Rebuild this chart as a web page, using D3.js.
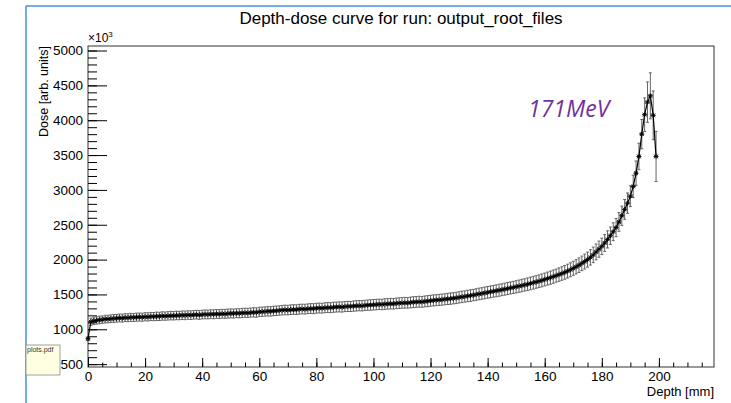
<!DOCTYPE html>
<html>
<head>
<meta charset="utf-8">
<script src="https://cdn.jsdelivr.net/npm/d3@7"></script>
<style>
  body { margin: 0; background: #fff; }
  svg { display: block; font-family: "Liberation Sans", Arial, sans-serif; }
</style>
</head>
<body>
<div id="chart"></div>
<script>
// depth in mm, one bin per mm
const depth = d3.range(0, 200);
const dose = [
  865, 1108, 1121, 1127, 1134, 1139, 1145, 1147, 1152, 1155,
  1158, 1163, 1160, 1168, 1166, 1171, 1169, 1174, 1176, 1173,
  1180, 1178, 1184, 1182, 1187, 1185, 1191, 1189, 1193, 1196,
  1194, 1199, 1197, 1202, 1200, 1205, 1203, 1207, 1210, 1206,
  1211, 1214, 1212, 1217, 1215, 1220, 1218, 1223, 1221, 1226,
  1228, 1226, 1231, 1229, 1234, 1237, 1235, 1240, 1243, 1241,
  1250, 1252, 1255, 1258, 1257, 1263, 1266, 1270, 1274, 1278,
  1276, 1281, 1284, 1282, 1288, 1291, 1289, 1295, 1298, 1296,
  1302, 1305, 1303, 1309, 1312, 1310, 1316, 1319, 1322, 1320,
  1326, 1329, 1327, 1333, 1336, 1339, 1337, 1343, 1346, 1349,
  1352, 1355, 1358, 1356, 1362, 1365, 1368, 1366, 1372, 1375,
  1378, 1381, 1379, 1385, 1389, 1392, 1396, 1394, 1400, 1404,
  1410, 1414, 1418, 1422, 1426, 1431, 1436, 1440, 1445, 1450,
  1458, 1465, 1471, 1478, 1484, 1491, 1499, 1507, 1514, 1522,
  1530, 1537, 1545, 1552, 1560, 1568, 1576, 1585, 1593, 1601,
  1610, 1619, 1628, 1637, 1647, 1658, 1668, 1679, 1690, 1702,
  1715, 1728, 1741, 1755, 1770, 1785, 1800, 1817, 1835, 1854,
  1875, 1897, 1920, 1946, 1972, 2000, 2032, 2068, 2110, 2150,
  2190, 2238, 2290, 2343, 2400, 2460, 2540, 2630, 2720, 2810,
  2910, 3050, 3240, 3480, 3800, 4080, 4260, 4350, 4070, 3480
];
const doseErr = [
  25, 52, 53, 52, 54, 53, 55, 54, 55, 56,
  55, 56, 57, 56, 57, 58, 57, 58, 57, 58,
  58, 59, 58, 59, 60, 59, 60, 59, 60, 61,
  60, 61, 60, 61, 62, 61, 62, 61, 62, 63,
  62, 63, 62, 63, 64, 63, 64, 63, 64, 65,
  64, 65, 64, 65, 66, 65, 66, 65, 66, 67,
  66, 67, 66, 67, 68, 67, 68, 67, 68, 69,
  68, 69, 68, 69, 70, 69, 70, 69, 70, 71,
  70, 71, 70, 71, 72, 71, 72, 71, 72, 73,
  72, 73, 72, 73, 74, 73, 74, 73, 74, 75,
  74, 75, 74, 75, 76, 75, 76, 75, 76, 77,
  76, 77, 76, 77, 78, 77, 78, 77, 78, 79,
  78, 79, 78, 79, 80, 79, 80, 81, 80, 81,
  81, 82, 81, 82, 83, 82, 83, 84, 83, 84,
  84, 85, 84, 85, 86, 85, 86, 87, 86, 87,
  87, 88, 89, 88, 89, 90, 91, 90, 91, 92,
  92, 93, 94, 95, 94, 96, 97, 98, 99, 100,
  101, 102, 104, 105, 107, 108, 110, 112, 114, 116,
  118, 120, 123, 125, 128, 131, 134, 138, 142, 146,
  150, 160, 175, 190, 210, 240, 290, 330, 350, 360
];
const xMajor = [0, 20, 40, 60, 80, 100, 120, 140, 160, 180, 200];
const yMajor = [500, 1000, 1500, 2000, 2500, 3000, 3500, 4000, 4500, 5000];

const width = 731, height = 403;
const frame = {left: 88, right: 714, top: 46, bottom: 367};

const xScale = d3.scaleLinear().domain([0, 219.3]).range([frame.left, frame.right]);
const yScale = d3.scaleLinear().domain([459, 5065]).range([frame.bottom, frame.top]);

const svg = d3.select("#chart").append("svg")
  .attr("width", width)
  .attr("height", height);

// page edges (blue guide lines of the viewer)
svg.append("line").attr("x1", 26).attr("x2", 26).attr("y1", 6).attr("y2", height)
  .attr("stroke", "#4a92dc").attr("stroke-width", 1.5);
svg.append("line").attr("x1", 26).attr("x2", width).attr("y1", 6).attr("y2", 6)
  .attr("stroke", "#4a92dc").attr("stroke-width", 1.5);

// title
svg.append("text")
  .attr("x", (frame.left + frame.right) / 2)
  .attr("y", 24)
  .attr("text-anchor", "middle")
  .attr("font-size", 17)
  .text("Depth-dose curve for run: output_root_files");

// frame
svg.append("rect")
  .attr("x", frame.left).attr("y", frame.top)
  .attr("width", frame.right - frame.left).attr("height", frame.bottom - frame.top)
  .attr("fill", "none").attr("stroke", "#333").attr("stroke-width", 1);

// x axis
const xAxis = d3.axisBottom(xScale).tickValues(xMajor).tickSize(-9).tickSizeOuter(0).tickPadding(4);
const xMinor = d3.axisBottom(xScale).tickValues(d3.range(0, 219, 5)).tickSize(-4.5).tickSizeOuter(0).tickFormat("");
svg.append("g").attr("transform", "translate(0," + frame.bottom + ")").call(xMinor);
svg.append("g").attr("class", "axis axis--x")
  .attr("transform", "translate(0," + frame.bottom + ")")
  .call(xAxis)
  .attr("font-size", 13.5)
  .attr("font-family", null);

// y axis
const yAxis = d3.axisLeft(yScale).tickValues(yMajor).tickSize(-19).tickSizeOuter(0).tickPadding(5)
  .tickFormat(d3.format("d"));
const yMinor = d3.axisLeft(yScale).tickValues(d3.range(500, 5001, 100)).tickSize(-9).tickSizeOuter(0).tickFormat("");
svg.append("g").attr("transform", "translate(" + frame.left + ",0)").call(yMinor);
svg.append("g").attr("class", "axis axis--y")
  .attr("transform", "translate(" + frame.left + ",0)")
  .call(yAxis)
  .attr("font-size", 13.5)
  .attr("font-family", null);

svg.selectAll(".domain").remove();

// exponent label
const expo = svg.append("text").attr("x", 88).attr("y", 42).attr("font-size", 12);
expo.append("tspan").text("\u00d710");
expo.append("tspan").attr("dy", -5).attr("font-size", 8).text("3");

// axis titles
svg.append("text")
  .attr("transform", "translate(48," + frame.top + ") rotate(-90)")
  .attr("text-anchor", "end")
  .attr("font-size", 12.5)
  .text("Dose [arb. units]");

svg.append("text")
  .attr("x", frame.right)
  .attr("y", 396)
  .attr("text-anchor", "end")
  .attr("font-size", 13)
  .text("Depth [mm]");

// error bars
const pts = depth.map((d, i) => ({x: d, y: dose[i], e: doseErr[i]}));
const bars = svg.append("g").attr("stroke", "#555").attr("stroke-width", 0.9).attr("fill", "none");
const hw = xScale(0.5) - xScale(0);
bars.selectAll("path")
  .data(pts)
  .enter().append("path")
  .attr("d", d => {
    const cx = xScale(d.x), lo = yScale(d.y - d.e), hi = yScale(d.y + d.e), cy = yScale(d.y);
    return "M" + cx + "," + lo + "V" + hi +
      "M" + (cx - 1.5) + "," + lo + "H" + (cx + 1.5) +
      "M" + (cx - 1.5) + "," + hi + "H" + (cx + 1.5) +
      "M" + (cx - hw) + "," + cy + "H" + (cx + hw) +
      "M" + (cx - hw) + "," + (cy - 1.5) + "V" + (cy + 1.5) +
      "M" + (cx + hw) + "," + (cy - 1.5) + "V" + (cy + 1.5);
  });

// connecting line
const line = d3.line().x(d => xScale(d.x)).y(d => yScale(d.y));
svg.append("path").datum(pts)
  .attr("d", line)
  .attr("fill", "none").attr("stroke", "#000").attr("stroke-width", 1.2);

// asterisk markers
svg.append("g").selectAll("path")
  .data(pts)
  .enter().append("path")
  .attr("transform", d => "translate(" + xScale(d.x) + "," + yScale(d.y) + ")")
  .attr("d", () => {
    const r = 2.6, q = 1.9;
    return "M-" + r + ",0H" + r + "M0,-" + r + "V" + r +
      "M-" + q + ",-" + q + "L" + q + "," + q + "M-" + q + "," + q + "L" + q + ",-" + q;
  })
  .attr("stroke", "#000").attr("stroke-width", 0.8).attr("fill", "none");

// energy annotation
svg.append("text")
  .attr("x", 528).attr("y", 117)
  .attr("font-family", "'Open Sans', 'Noto Sans', sans-serif")
  .attr("font-style", "italic")
  .attr("font-size", 23)
  .attr("fill", "#7030a0")
  .text("171MeV");

// viewer file tag
svg.append("rect").attr("x", 26).attr("y", 345).attr("width", 34).attr("height", 30)
  .attr("fill", "#ffffe1").attr("stroke", "#8a8a8a").attr("stroke-width", 0.8);
svg.append("text").attr("x", 27).attr("y", 352).attr("font-size", 7).attr("fill", "#333")
  .text("plots.pdf");
</script>
</body>
</html>
